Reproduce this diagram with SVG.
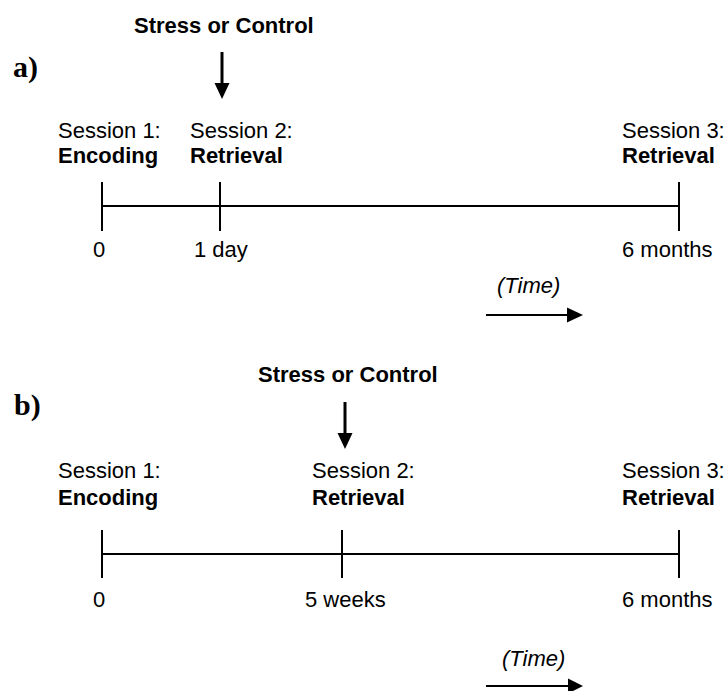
<svg xmlns="http://www.w3.org/2000/svg" width="727" height="691" viewBox="0 0 727 691">
<defs>
<style>
.t{font-family:"Liberation Sans",Arial,sans-serif;font-size:22px;fill:#000}
.b{font-weight:bold}
.i{font-style:italic}
.p{font-family:"Liberation Serif","Times New Roman",serif;font-size:30px;font-weight:bold;fill:#000}
.ln{stroke:#000;stroke-width:2;fill:none}
.sh{stroke:#000;stroke-width:3;fill:none}
</style>
</defs>
<rect width="727" height="691" fill="#fff"/>
<g id="panel-a">
<text id="label-a" class="p" x="13" y="77">a)</text>
<g id="a-stress"><text class="t b" x="134" y="33">Stress or Control</text></g>
<g id="a-s1"><text class="t" x="58" y="138">Session 1:</text><text class="t b" x="58" y="163">Encoding</text><text class="t" x="93" y="257">0</text></g>
<g id="a-s2"><text class="t" x="190" y="138">Session 2:</text><text class="t b" x="190" y="163">Retrieval</text><text class="t" x="194" y="257">1 day</text></g>
<g id="a-s3"><text class="t" x="622" y="138">Session 3:</text><text class="t b" x="622" y="163">Retrieval</text><text class="t" x="622" y="257">6 months</text></g>
<g id="a-time"><text class="t i" x="497" y="293">(Time)</text></g>
</g>
<g id="panel-b">
<text id="label-b" class="p" x="14" y="415">b)</text>
<g id="b-stress"><text class="t b" x="258" y="382">Stress or Control</text></g>
<g id="b-s1"><text class="t" x="58" y="478">Session 1:</text><text class="t b" x="58" y="505">Encoding</text><text class="t" x="93" y="607">0</text></g>
<g id="b-s2"><text class="t" x="312" y="478">Session 2:</text><text class="t b" x="312" y="505">Retrieval</text><text class="t" x="305" y="607">5 weeks</text></g>
<g id="b-s3"><text class="t" x="622" y="478">Session 3:</text><text class="t b" x="622" y="505">Retrieval</text><text class="t" x="622" y="607">6 months</text></g>
<g id="b-time"><text class="t i" x="502" y="666">(Time)</text></g>
</g>
<g id="connectors">
<line class="ln" x1="102" y1="206" x2="679" y2="206"/>
<line class="ln" x1="102" y1="182" x2="102" y2="231"/>
<line class="ln" x1="220" y1="182" x2="220" y2="231"/>
<line class="ln" x1="679" y1="182" x2="679" y2="231"/>
<line class="sh" x1="222" y1="52" x2="222" y2="85"/>
<polygon points="214.5,83 229.5,83 222,99"/>
<line class="ln" x1="486" y1="315" x2="568" y2="315"/>
<polygon points="567,307.5 567,322.5 583,315"/>
<line class="ln" x1="102" y1="554" x2="679" y2="554"/>
<line class="ln" x1="102" y1="530" x2="102" y2="578"/>
<line class="ln" x1="342" y1="530" x2="342" y2="578"/>
<line class="ln" x1="679" y1="530" x2="679" y2="578"/>
<line class="sh" x1="345" y1="402" x2="345" y2="435"/>
<polygon points="337.5,433 352.5,433 345,449"/>
<line class="ln" x1="486" y1="686" x2="569" y2="686"/>
<polygon points="568,678.5 568,693.5 583,686"/>
</g>
</svg>
